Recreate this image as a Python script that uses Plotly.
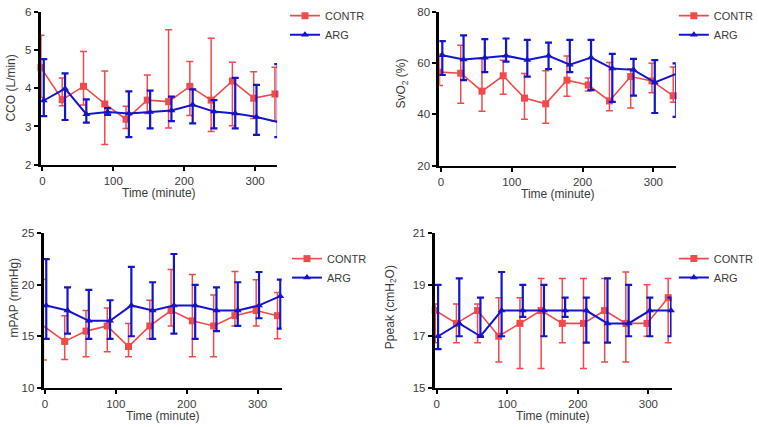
import plotly.graph_objects as go

W, H = 759, 427

times = [0, 30, 60, 90, 120, 150, 180, 210, 240, 270, 300, 330]

# CCO (L/min)
cco_contr = [4.54, 3.70, 4.05, 3.59, 3.19, 3.69, 3.65, 4.05, 3.69, 4.19, 3.74, 3.85]
cco_contr_hi = [5.39, 4.27, 4.96, 4.45, 3.53, 4.35, 5.53, 4.70, 5.31, 4.68, 4.43, 4.55]
cco_contr_lo = [3.76, 3.54, 3.56, 2.53, 2.95, 3.34, 2.96, 3.29, 2.87, 3.02, 3.21, 3.14]
cco_arg = [3.68, 3.99, 3.32, 3.38, 3.34, 3.38, 3.42, 3.57, 3.39, 3.34, 3.25, 3.12]
cco_arg_hi = [4.76, 4.39, 3.71, 3.48, 3.92, 3.94, 3.78, 3.97, 3.69, 4.27, 4.09, 4.63]
cco_arg_lo = [3.27, 3.17, 3.10, 3.30, 2.72, 2.95, 3.14, 3.08, 2.95, 2.95, 2.78, 2.72]

# SvO2 (%)
svo2_contr = [56.4, 56.0, 49.0, 55.0, 46.3, 44.1, 53.3, 51.4, 45.2, 54.7, 53.0, 47.2]
svo2_contr_hi = [63.6, 66.9, 61.6, 61.0, 55.9, 57.0, 62.7, 54.1, 60.2, 57.7, 59.9, 58.4]
svo2_contr_lo = [51.2, 44.3, 41.2, 47.8, 38.1, 36.5, 47.0, 49.1, 41.4, 42.5, 48.4, 44.7]
svo2_arg = [63.0, 61.3, 62.0, 62.8, 61.1, 62.8, 59.3, 62.1, 57.8, 57.3, 52.4, 55.7]
svo2_arg_hi = [68.5, 70.7, 69.3, 69.5, 69.0, 67.9, 69.0, 69.0, 63.5, 61.6, 61.1, 59.8]
svo2_arg_lo = [55.3, 53.3, 56.4, 60.5, 54.7, 57.6, 56.4, 49.4, 44.8, 47.3, 40.5, 39.0]

# mPAP (mmHg)
mpap_contr = [16.0, 14.5, 15.5, 16.0, 14.0, 16.0, 17.5, 16.5, 16.0, 17.0, 17.5, 17.0]
mpap_contr_hi = [20.55, 17.0, 17.5, 17.75, 16.25, 18.5, 21.5, 21.0, 19.0, 21.3, 20.5, 19.25]
mpap_contr_lo = [12.7, 12.75, 13.0, 13.5, 13.0, 14.75, 16.0, 13.0, 13.0, 16.0, 16.0, 14.75]
mpap_arg = [18.0, 17.5, 16.5, 16.5, 18.0, 17.5, 18.0, 18.0, 17.5, 17.5, 18.0, 18.9]
mpap_arg_hi = [22.5, 19.75, 19.5, 18.5, 21.75, 20.25, 23.0, 20.0, 19.75, 20.25, 21.25, 20.5]
mpap_arg_lo = [14.75, 15.25, 14.75, 14.75, 15.0, 14.75, 15.25, 14.75, 15.5, 16.0, 16.75, 15.75]

# Ppeak (cmH2O)
ppeak_contr = [18.0, 17.5, 18.0, 17.0, 17.5, 18.0, 17.5, 17.5, 18.0, 17.5, 17.5, 18.5]
ppeak_contr_hi = [18.25, 18.25, 18.25, 18.5, 18.5, 19.25, 19.25, 19.25, 19.25, 19.5, 19.0, 19.25]
ppeak_contr_lo = [16.75, 16.75, 16.75, 16.0, 15.75, 15.75, 16.75, 15.75, 16.0, 16.0, 17.0, 16.75]
ppeak_arg = [17.0, 17.5, 17.0, 18.0, 18.0, 18.0, 18.0, 18.0, 17.5, 17.5, 18.0, 18.0]
ppeak_arg_hi = [19.0, 19.25, 18.5, 19.5, 19.0, 19.0, 18.5, 18.5, 19.25, 19.0, 18.5, 18.5]
ppeak_arg_lo = [16.5, 17.0, 17.0, 17.0, 17.75, 17.0, 17.75, 16.75, 16.75, 17.0, 17.0, 17.0]

RED = "#f04a4a"
BLUE = "#1414cc"
FONT = "Liberation Sans, Arial, sans-serif"
TXT = "#3a3a3a"

fig = go.Figure()

panels = [
    dict(px=(39, 278), py=(6, 163.3), xr=(-2.5, 331), yr=(2, 6), yt=[2, 3, 4, 5, 6],
         ytitle="CCO (L/min)", ytx=9, yty=84, leg=(286, -5),
         data=(cco_contr, cco_contr_hi, cco_contr_lo, cco_arg, cco_arg_hi, cco_arg_lo)),
    dict(px=(442, 681), py=(5.7, 164.3), xr=(-2.2, 331.7), yr=(20, 80), yt=[20, 40, 60, 80],
         ytitle="SvO<sub>2</sub> (%)", ytx=404, yty=80, leg=(679, -5),
         data=(svo2_contr, svo2_contr_hi, svo2_contr_lo, svo2_arg, svo2_arg_hi, svo2_arg_lo)),
    dict(px=(42, 282.7), py=(234, 392.7), xr=(-1.8, 334), yr=(10, 25), yt=[10, 15, 20, 25],
         ytitle="mPAP (mmHg)", ytx=12, yty=300, leg=(288, 245),
         data=(mpap_contr, mpap_contr_hi, mpap_contr_lo, mpap_arg, mpap_arg_hi, mpap_arg_lo)),
    dict(px=(437.3, 676.7), py=(234, 392.7), xr=(-2.8, 332.8), yr=(15, 21), yt=[15, 17, 19, 21],
         ytitle="Ppeak (cmH<sub>2</sub>O)", ytx=393, yty=310, leg=(679, 245),
         data=(ppeak_contr, ppeak_contr_hi, ppeak_contr_lo, ppeak_arg, ppeak_arg_hi, ppeak_arg_lo)),
]

annotations = []
for i, p in enumerate(panels):
    n = "" if i == 0 else str(i + 1)
    xa, ya = "x" + n, "y" + n
    leg = "legend" + n
    c, chi, clo, a, ahi, alo = p["data"]
    xr_c = [t - 2 for t in times]
    xr_a = [t + 2 for t in times]
    fig.add_trace(go.Scatter(
        x=xr_c, y=c, mode="lines+markers", name="CONTR", xaxis=xa, yaxis=ya, legend=leg,
        line=dict(color=RED, width=1.6),
        marker=dict(symbol="square", size=7, color=RED),
        error_y=dict(type="data", symmetric=False,
                     array=[h - m for h, m in zip(chi, c)],
                     arrayminus=[m - l for m, l in zip(c, clo)],
                     color=RED, thickness=1.5, width=3.5),
        cliponaxis=False,
    ))
    fig.add_trace(go.Scatter(
        x=xr_a, y=a, mode="lines+markers", name="ARG", xaxis=xa, yaxis=ya, legend=leg,
        line=dict(color=BLUE, width=2),
        marker=dict(symbol="triangle-up", size=7, color=BLUE),
        error_y=dict(type="data", symmetric=False,
                     array=[h - m for h, m in zip(ahi, a)],
                     arrayminus=[m - l for m, l in zip(a, alo)],
                     color=BLUE, thickness=2.2, width=3.5),
        cliponaxis=False,
    ))
    x0, x1 = p["px"]
    y0, y1 = p["py"]
    axkey = "xaxis" + n
    aykey = "yaxis" + n
    fig.layout[axkey] = dict(
        domain=[x0 / W, x1 / W], range=list(p["xr"]), anchor=ya,
        showline=True, linecolor="black", linewidth=2.2, ticks="outside",
        tickvals=[0, 100, 200, 300], ticklen=4, tickwidth=2, tickcolor="black",
        showgrid=False, zeroline=False,
        tickfont=dict(family=FONT, size=11.5, color=TXT),
    )
    fig.layout[aykey] = dict(
        domain=[1 - y1 / H, 1 - y0 / H], range=list(p["yr"]), anchor=xa,
        showline=True, linecolor="black", linewidth=2.8, ticks="outside",
        tickvals=p["yt"], ticklen=4, tickwidth=2, tickcolor="black",
        showgrid=False, zeroline=False,
        tickfont=dict(family=FONT, size=11.5, color=TXT),
    )
    annotations.append(dict(
        text=p["ytitle"], x=p["ytx"] / W, y=1 - p["yty"] / H, xref="paper", yref="paper",
        textangle=-90, showarrow=False, xanchor="center", yanchor="middle",
        font=dict(family=FONT, size=12, color=TXT),
    ))
    annotations.append(dict(
        text="Time (minute)", x=(x0 + x1) / 2 / W, y=1 - (y1 + 29) / H,
        xref="paper", yref="paper", showarrow=False, xanchor="center", yanchor="middle",
        font=dict(family=FONT, size=12, color=TXT),
    ))
    lx, ly = p["leg"]
    fig.layout[leg] = dict(
        x=lx / W, y=1 - ly / H, xanchor="left", yanchor="top",
        bgcolor="rgba(0,0,0,0)", font=dict(family=FONT, size=11, color=TXT),
        itemwidth=30, tracegroupgap=0,
    )

fig.update_layout(
    width=W, height=H, margin=dict(l=0, r=0, t=0, b=0),
    paper_bgcolor="white", plot_bgcolor="white",
    annotations=annotations, showlegend=True,
)

fig.write_html("out.html", config={"displayModeBar": False},
               post_script="document.body.style.margin='0';document.body.style.padding='0';")
